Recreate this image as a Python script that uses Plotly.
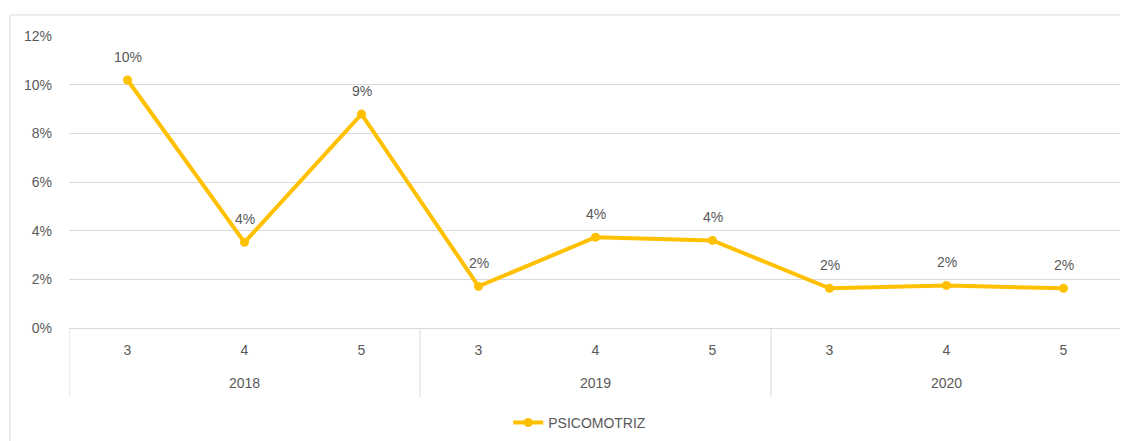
import plotly.graph_objects as go

years = ["2018", "2019", "2020"]
grades = ["3", "4", "5"]
psicomotriz = [0.1019, 0.0352, 0.0879, 0.0171, 0.0373, 0.0360, 0.0163, 0.0175, 0.0163]
series_name = "PSICOMOTRIZ"

GOLD = "#FFC000"
GREY_TXT = "#595959"
GRID = "#D9D9D9"
FONT = "Liberation Sans"
FS = 14

n_per = len(grades)
xs = list(range(len(years) * n_per))
tick_text = grades * len(years)

fig = go.Figure()
fig.add_trace(go.Scatter(
    x=xs,
    y=psicomotriz,
    mode="lines+markers",
    name=series_name,
    line=dict(color=GOLD, width=4),
    marker=dict(color=GOLD, size=9),
    cliponaxis=False,
))

annotations = []
for x, v in zip(xs, psicomotriz):
    annotations.append(dict(x=x, y=v, xref="x", yref="y", text=f"{round(v*100):.0f}%",
                            showarrow=False, yshift=23,
                            font=dict(family=FONT, size=FS, color=GREY_TXT)))
for gi, yr in enumerate(years):
    annotations.append(dict(x=gi * n_per + (n_per - 1) / 2, y=-0.19, xref="x", yref="paper",
                            text=yr, showarrow=False, yanchor="middle",
                            font=dict(family=FONT, size=FS, color=GREY_TXT)))

shapes = []
for gi in range(len(years) + 1):
    bx = gi * n_per - 0.5
    shapes.append(dict(type="line", xref="x", yref="paper", x0=bx, x1=bx, y0=0, y1=-0.237,
                       line=dict(color=GRID, width=1)))
shapes.append(dict(type="rect", xref="paper", yref="paper",
                   x0=-0.056, x1=1.02, y0=-0.45, y1=1.072,
                   line=dict(color=GRID, width=1), fillcolor="rgba(0,0,0,0)", layer="below"))

fig.update_layout(
    width=1128, height=441,
    margin=dict(l=61, r=14, t=28, b=121, autoexpand=False),
    paper_bgcolor="white", plot_bgcolor="white",
    font=dict(family=FONT, size=FS, color=GREY_TXT),
    showlegend=True,
    legend=dict(orientation="h", x=0.485, xanchor="center", y=-0.325, yanchor="middle",
                font=dict(family=FONT, size=FS, color=GREY_TXT)),
    xaxis=dict(
        range=[-0.5, len(xs) - 0.5],
        tickvals=xs, ticktext=tick_text,
        showgrid=False, zeroline=False,
        showline=True, linecolor=GRID, linewidth=1,
        ticks="", ticklabelstandoff=9, automargin=False,
        tickfont=dict(family=FONT, size=FS, color=GREY_TXT),
    ),
    yaxis=dict(
        range=[0, 0.12], dtick=0.02, tickformat=".0%",
        showgrid=True, gridcolor=GRID, gridwidth=1,
        zeroline=False, showline=False, automargin=False,
        ticklabelstandoff=16,
        tickfont=dict(family=FONT, size=FS, color=GREY_TXT),
    ),
    annotations=annotations,
    shapes=shapes,
)

fig.write_html("out.html")
